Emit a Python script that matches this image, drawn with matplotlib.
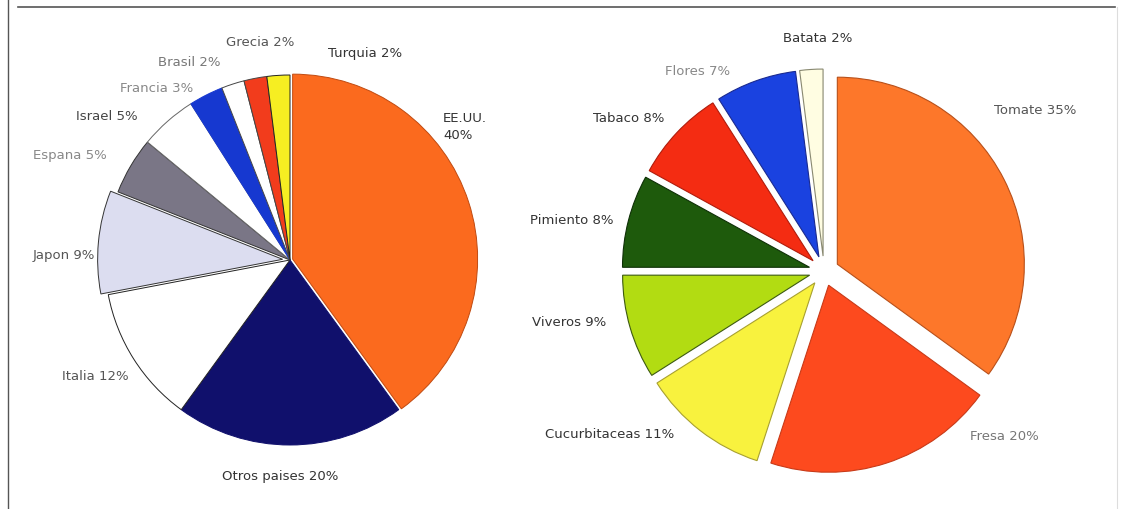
import matplotlib
matplotlib.use("Agg")
import matplotlib.pyplot as plt
from matplotlib.lines import Line2D

W, H = 1123, 510

# Left pie: countries
paises = ['EE.UU.', 'Otros paises', 'Italia', 'Japon', 'Espana',
          'Israel', 'Francia', 'Brasil', 'Grecia', 'Turquia']
paises_pct = [40, 20, 12, 9, 5, 5, 3, 2, 2, 2]
paises_labels = ['EE.UU.\n40%', 'Otros paises 20%', 'Italia 12%', 'Japon 9%',
                 'Espana 5%', 'Israel 5%', 'Francia 3%', 'Brasil 2%',
                 'Grecia 2%', 'Turquia 2%']

# Right pie: crops
cultivos = ['Tomate', 'Fresa', 'Cucurbitaceas', 'Viveros', 'Pimiento',
            'Tabaco', 'Flores', 'Batata']
cultivos_pct = [35, 20, 11, 9, 8, 8, 7, 2]
cultivos_labels = ['Tomate 35%', 'Fresa 20%', 'Cucurbitaceas 11%', 'Viveros 9%',
                   'Pimiento 8%', 'Tabaco 8%', 'Flores 7%', 'Batata 2%']

# styles
paises_colors = ['#fb6a1e', '#10106c', '#ffffff', '#dcddf0', '#7a7686',
                 '#ffffff', '#1638d0', '#ffffff', '#f23c1c', '#f6ee22']
paises_edges = ['#c04a10', '#10106c', '#222222', '#333333', '#333333',
                '#666666', '#1638d0', '#444444', '#444444', '#222222']
paises_explode = [0.015, 0, 0, 0.04, 0, 0, 0, 0, 0, 0]

cultivos_colors = ['#fd772a', '#fd4a1e', '#f8f23e', '#b2dc12', '#1e5a0c',
                   '#f42c12', '#1a42e0', '#fffde2']
cultivos_edges = ['#b8501a', '#c83a18', '#a8a030', '#3c5a10', '#0e3006',
                  '#b01c0c', '#1a2a90', '#888870']

# label positions in pixels (x, y, ha)
paises_pos = [(443, 127, 'left'), (280, 477, 'center'), (129, 377, 'right'),
              (95, 256, 'right'), (107, 156, 'right'), (138, 117, 'right'),
              (193, 89, 'right'), (220, 63, 'right'), (260, 43, 'center'),
              (365, 53, 'center')]
cultivos_pos = [(994, 110, 'left'), (970, 437, 'left'), (674, 435, 'right'),
                (606, 323, 'right'), (614, 221, 'right'), (664, 119, 'right'),
                (730, 72, 'right'), (818, 39, 'center')]
paises_tc = ['#333333', '#333333', '#555555', '#555555', '#888888',
             '#444444', '#888888', '#777777', '#555555', '#333333']
cultivos_tc = ['#555555', '#777777', '#333333', '#333333', '#333333',
               '#333333', '#888888', '#333333']

fig = plt.figure(figsize=(W / 100, H / 100), dpi=100)


def pie_axes(cx, cy, r, s=250):
    ax = fig.add_axes([(cx - s) / W, 1 - (cy + s) / H, 2 * s / W, 2 * s / H])
    return ax, s / r


ax1, lim1 = pie_axes(290, 261, 185)
w1, _ = ax1.pie(paises_pct, colors=paises_colors, startangle=90,
                counterclock=False, explode=paises_explode,
                wedgeprops=dict(linewidth=0.7))
for w, ec in zip(w1, paises_edges):
    w.set_edgecolor(ec)
ax1.set_xlim(-lim1, lim1)
ax1.set_ylim(-lim1, lim1)
ax1.set_aspect('auto')
ax1.axis('off')

ax2, lim2 = pie_axes(824, 272, 187)
w2, _ = ax2.pie(cultivos_pct, colors=cultivos_colors, startangle=90,
                counterclock=False, explode=[0.08] * len(cultivos_pct),
                wedgeprops=dict(linewidth=0.8))
for w, ec in zip(w2, cultivos_edges):
    w.set_edgecolor(ec)
ax2.set_xlim(-lim2, lim2)
ax2.set_ylim(-lim2, lim2)
ax2.set_aspect('auto')
ax2.axis('off')

for lab, (x, y, ha), c in zip(paises_labels, paises_pos, paises_tc):
    fig.text(x / W, 1 - y / H, lab, ha=ha, va='center', fontsize=9.5,
             color=c, family='DejaVu Sans', linespacing=1.35)
for lab, (x, y, ha), c in zip(cultivos_labels, cultivos_pos, cultivos_tc):
    fig.text(x / W, 1 - y / H, lab, ha=ha, va='center', fontsize=9.5,
             color=c, family='DejaVu Sans')

# frame
fig.add_artist(Line2D([18 / W, 1115 / W], [1 - 8 / H, 1 - 8 / H],
                      color='#555555', lw=1.2))
fig.add_artist(Line2D([8 / W, 8 / W], [0, 1], color='#555555', lw=1.0))
fig.add_artist(Line2D([1117 / W, 1117 / W], [0, 1 - 8 / H],
                      color='#dddddd', lw=0.8))

fig.savefig('out.png', dpi=100)
